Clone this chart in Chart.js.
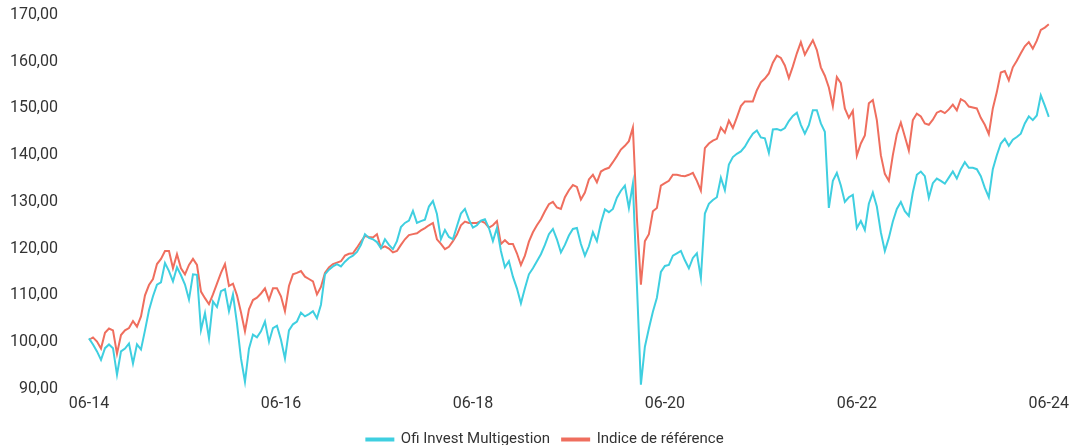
<!DOCTYPE html>
<html>
<head>
<meta charset="utf-8">
<script src="https://cdn.jsdelivr.net/npm/chart.js@4/dist/chart.umd.min.js"></script>
<style>
  body { margin: 0; background: #fff; }
  #wrap { width: 1075px; height: 445px; position: relative; }
</style>
</head>
<body>
<div id="wrap"><canvas id="perfChart"></canvas></div>
<script>
// half-month steps from 06-14 to 06-24 (241 points)
const tickLabels = ["06-14", "06-16", "06-18", "06-20", "06-22", "06-24"];
const stepsPerTick = 48;

const fundValues = [
    100.8, 99.5, 98.0, 96.2, 98.7, 99.5, 98.7, 93.0, 98.0, 98.6,
    99.7, 95.4, 99.5, 98.4, 102.5, 106.8, 109.8, 112.3, 112.8, 116.9,
    115.2, 113.0, 116.0, 114.3, 112.3, 109.1, 114.5, 114.4, 102.6, 106.2,
    100.8, 108.7, 107.5, 110.9, 111.3, 106.6, 110.2, 104.0, 96.5, 91.5,
    98.6, 101.6, 101.0, 102.3, 104.4, 100.0, 103.0, 103.5, 100.5, 96.5,
    102.5, 103.8, 104.4, 106.3, 105.5, 106.0, 106.6, 105.1, 108.0, 114.5,
    115.5, 116.2, 116.7, 116.2, 117.2, 118.0, 118.5, 119.3, 120.8, 123.1,
    122.3, 122.0, 121.4, 120.1, 122.0, 120.8, 119.9, 121.6, 124.6, 125.5,
    126.0, 128.1, 125.5, 125.9, 126.2, 129.0, 130.2, 127.4, 122.0, 124.0,
    122.5, 122.0, 124.8, 127.5, 128.5, 126.2, 124.5, 125.0, 126.0, 126.3,
    124.4, 121.6, 124.4, 119.5, 116.0, 117.3, 114.0, 111.5, 108.3, 111.5,
    114.5, 115.8, 117.3, 118.8, 120.8, 123.1, 124.2, 122.0, 119.2, 120.8,
    122.8, 124.2, 124.4, 121.0, 118.5, 120.5, 123.5, 121.6, 125.5, 128.4,
    127.8, 128.5, 130.9, 132.4, 133.5, 128.7, 133.9, 112.3, 90.9, 99.0,
    102.9, 106.5, 109.5, 115.0, 116.3, 116.5, 118.5, 119.0, 119.5, 117.5,
    115.8, 118.0, 119.0, 113.7, 127.5, 129.6, 130.4, 131.0, 135.2, 132.5,
    138.0, 139.6, 140.3, 140.8, 141.8, 143.3, 144.6, 145.3, 143.8, 143.6,
    140.5, 145.5, 145.6, 145.3, 145.8, 147.3, 148.4, 149.1, 146.5, 144.6,
    146.4, 149.6, 149.6, 146.8, 145.0, 128.7, 134.5, 136.2, 133.5, 130.0,
    131.0, 131.5, 124.4, 125.9, 124.0, 129.6, 132.0, 129.0, 123.5, 119.5,
    122.3, 125.8, 128.5, 130.0, 128.0, 127.0, 132.0, 135.8, 136.5, 135.5,
    130.9, 134.0, 135.0, 134.5, 133.9, 135.2, 136.5, 135.0, 137.0, 138.5,
    137.3, 137.3, 137.0, 135.5, 133.0, 131.0, 137.0, 140.0, 142.5, 143.5,
    142.0, 143.3, 143.9, 144.6, 146.8, 148.3, 147.5, 148.5, 152.8, 150.6,
    148.2
];

const benchmarkValues = [
    100.5, 101.0, 100.1, 98.6, 102.0, 102.9, 102.5, 97.5, 101.5, 102.5,
    103.0, 104.5, 103.3, 105.5, 110.0, 112.2, 113.5, 116.7, 117.8, 119.5,
    119.5, 115.8, 118.8, 115.8, 114.5, 116.5, 117.8, 116.5, 110.8, 109.4,
    108.1, 110.2, 112.5, 114.8, 116.7, 112.0, 112.5, 110.0, 106.4, 102.3,
    107.0, 109.0, 109.5, 110.4, 111.5, 109.0, 111.5, 111.5, 109.8, 106.6,
    112.0, 114.5, 114.8, 115.2, 114.0, 113.5, 113.0, 110.2, 111.8, 114.8,
    116.0, 116.7, 117.0, 117.3, 118.5, 118.9, 119.0, 120.2, 121.5, 122.7,
    122.5, 122.4, 123.1, 120.1, 120.5, 120.0, 119.2, 119.5, 120.8, 122.0,
    122.9, 123.1, 123.3, 123.9, 124.4, 125.0, 125.5, 122.0, 121.0, 119.9,
    120.4, 121.6, 123.0, 125.0, 125.8, 125.5, 125.5, 125.5, 125.9, 125.5,
    124.5, 125.0, 125.9, 121.0, 121.8, 121.0, 121.0, 119.0, 116.5, 118.5,
    121.5, 123.5, 125.0, 126.3, 128.0, 129.5, 130.0, 128.8, 128.5, 131.0,
    132.5, 133.6, 133.2, 130.5, 132.0, 134.8, 135.8, 134.2, 136.5, 137.0,
    137.3, 138.5, 139.8, 141.2, 142.0, 143.0, 145.9, 126.6, 112.3, 121.6,
    123.1, 128.0, 128.7, 133.5, 134.0, 134.5, 135.8, 135.8, 135.6, 135.5,
    135.8, 136.2, 134.5, 132.4, 141.5, 142.5, 143.1, 143.5, 145.9, 144.8,
    147.4, 145.8, 148.1, 150.5, 151.5, 151.5, 151.5, 153.9, 155.6, 156.4,
    157.5, 159.8, 161.3, 160.8, 159.2, 156.5, 159.0, 161.8, 164.2, 161.5,
    163.1, 164.6, 162.5, 158.8, 157.0, 154.5, 150.5, 156.7, 155.4, 150.0,
    148.0, 149.5, 139.9, 142.5, 144.2, 151.1, 151.8, 147.5, 140.0, 136.0,
    134.5, 140.0, 144.5, 147.0, 144.0, 141.0, 147.5, 148.9, 148.3, 146.8,
    146.5, 147.6, 149.1, 149.5, 149.0, 149.8, 150.8, 149.6, 152.0, 151.5,
    150.4, 150.2, 150.0, 148.0, 146.5, 144.5, 150.0, 153.5, 157.7, 158.0,
    156.0, 158.8, 160.2, 161.8, 163.3, 164.2, 162.8, 164.5, 166.8, 167.3,
    168.0
];

const periods = fundValues.map((v, i) => i);

const textColor = "#333333";
const tickFont = { family: "Roboto, 'Liberation Sans', sans-serif", size: 16 };
const legendFont = { family: "Roboto, 'Liberation Sans', sans-serif", size: 15 };

// the legend in the original sits a bit right of the canvas centre
const legendShift = {
    id: "legendShift",
    afterLayout(chart) {
        chart.legend.left += 19;
        chart.legend.right += 19;
    }
};

new Chart(document.getElementById("perfChart"), {
    type: "line",
    data: {
        labels: periods,
        datasets: [{
            label: "Ofi Invest Multigestion",
            data: fundValues,
            borderColor: "#3fcfe0",
            backgroundColor: "#3fcfe0",
            borderWidth: 2,
            pointRadius: 0,
            fill: false,
            tension: 0
        }, {
            label: "Indice de référence",
            data: benchmarkValues,
            borderColor: "#ef6e5e",
            backgroundColor: "#ef6e5e",
            borderWidth: 2,
            pointRadius: 0,
            fill: false,
            tension: 0
        }]
    },
    options: {
        responsive: true,
        maintainAspectRatio: false,
        animation: false,
        layout: { padding: { top: 15, right: 23, bottom: -12, left: 0 } },
        scales: {
            x: {
                offset: false,
                grid: { display: false, drawTicks: false },
                border: { display: false },
                ticks: {
                    autoSkip: false,
                    maxRotation: 0,
                    padding: 6,
                    color: textColor,
                    font: tickFont,
                    callback: function (value, index) {
                        return index % stepsPerTick === 0 ? tickLabels[index / stepsPerTick] : null;
                    }
                }
            },
            y: {
                min: 90,
                max: 170,
                afterFit: function (scale) {
                    scale.width = 89;
                    scale.paddingTop = 0;
                    scale.paddingBottom = 0;
                },
                grid: { display: false, drawTicks: false },
                border: { display: false },
                ticks: {
                    stepSize: 10,
                    padding: 31,
                    color: textColor,
                    font: tickFont,
                    callback: value => value.toFixed(2).replace(".", ",")
                }
            }
        },
        plugins: {
            legend: {
                position: "bottom",
                labels: {
                    boxWidth: 27,
                    boxHeight: 2,
                    color: textColor,
                    font: legendFont,
                    padding: 12
                }
            },
            tooltip: { enabled: false }
        }
    },
    plugins: [legendShift]
});
</script>
</body>
</html>
